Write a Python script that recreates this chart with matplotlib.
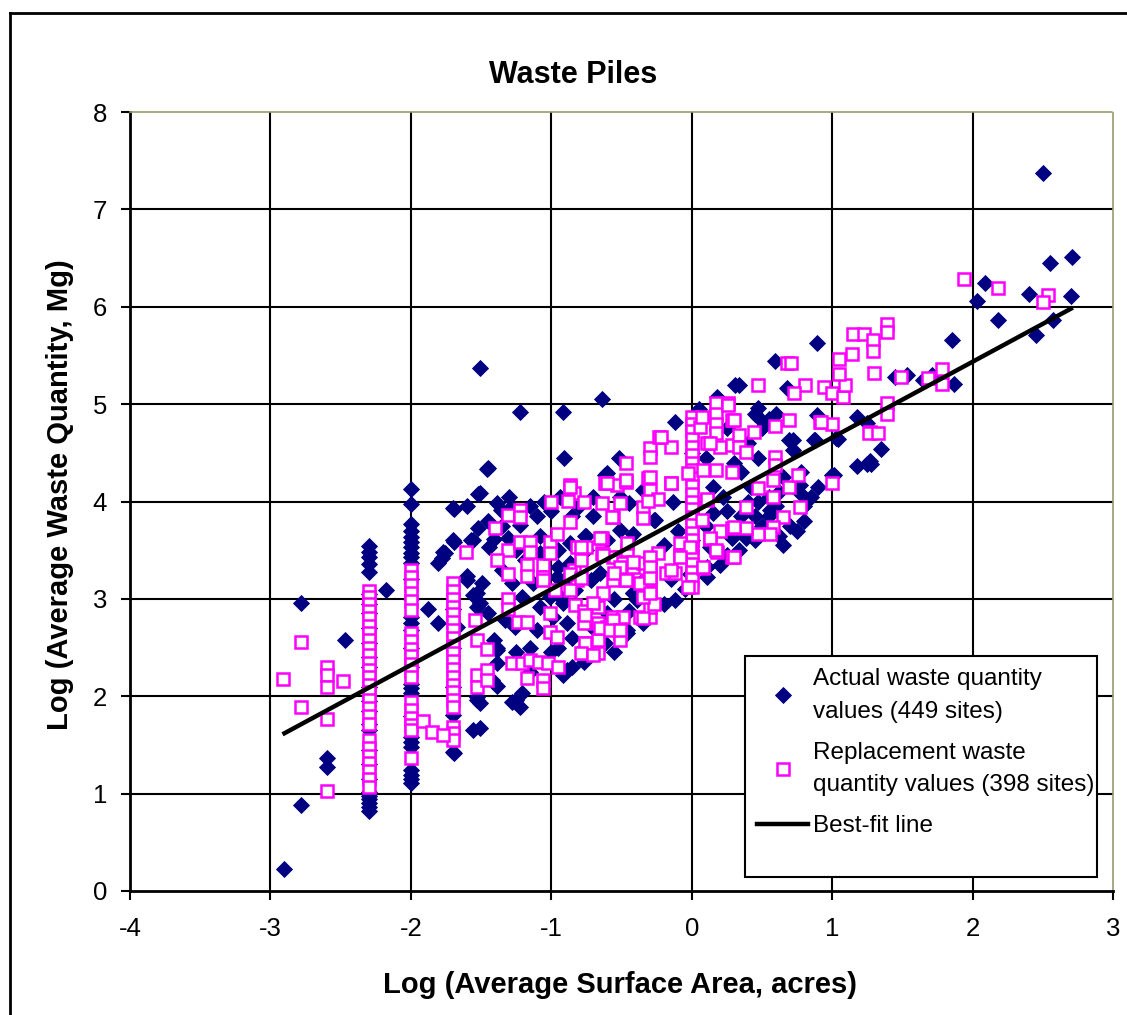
import matplotlib
matplotlib.use("Agg")
import matplotlib.pyplot as plt
from matplotlib.lines import Line2D
from matplotlib.patches import Rectangle
import numpy as np

plt.rcParams['font.family'] = ['Liberation Sans', 'DejaVu Sans']

# ---------------- data ----------------
# vertical columns of points (x value, list of y values)
actual_col_x = [-2.3, -2.0, -1.7]
actual_col_y = [
    [3.54, 3.48, 3.43, 3.36, 3.28, 3.05, 2.95, 2.85, 2.70, 2.55, 2.40, 2.30, 2.10, 1.95, 1.85,
     1.72, 1.65, 1.45, 1.30, 1.15, 1.02, 0.98, 0.94, 0.90, 0.86, 0.82],
    [4.13, 3.97, 3.77, 3.70, 3.64, 3.58, 3.53, 3.47, 3.43, 3.37, 3.20, 3.00, 2.81, 2.75, 2.68,
     2.50, 2.30, 2.13, 2.08, 2.03, 1.80, 1.58, 1.53, 1.48, 1.24, 1.19, 1.15, 1.11],
    [3.93, 3.60, 2.90, 2.50, 2.10, 1.81, 1.43],
]
replacement_col_x = [-2.3, -2.0, -1.7, 0.0]
replacement_col_y = [
    [3.08, 3.02, 2.95, 2.88, 2.80, 2.72, 2.65, 2.58, 2.50, 2.42, 2.34, 2.27, 2.20, 2.12, 2.04,
     1.96, 1.88, 1.80, 1.72, 1.55, 1.47, 1.39, 1.31, 1.23, 1.15, 1.07],
    [3.30, 3.22, 3.14, 3.06, 2.98, 2.89, 2.65, 2.57, 2.49, 2.41, 2.33, 2.26, 2.20, 1.94, 1.86,
     1.78, 1.70, 1.65, 1.37],
    [3.16, 3.08, 3.00, 2.92, 2.84, 2.76, 2.68, 2.60, 2.52, 2.44, 2.36, 2.28, 2.20, 2.12, 2.04,
     1.96, 1.89, 1.68, 1.62, 1.55],
    [4.87, 4.80, 4.72, 4.64, 4.56, 4.48, 4.40, 4.32, 4.24, 4.16, 4.08, 4.00, 3.92, 3.84, 3.76,
     3.68, 3.60, 3.52, 3.44, 3.36, 3.28, 3.20, 3.12],
]

# scattered points (log area, log quantity)
actual_pts = [
    (-2.90, 0.23), (-2.78, 0.88), (-2.78, 2.96), (-2.60, 1.37), (-2.60, 1.27), (-2.47, 2.58), (-2.18, 3.09),
    (-1.88, 2.90), (-1.81, 2.75), (-1.81, 3.37), (-1.78, 3.42), (-1.76, 3.47), (-1.77, 3.48), (-1.69, 3.58), (-1.69, 3.92),
    (-1.52, 4.08), (-1.46, 4.33), (-1.52, 3.73), (-1.57, 3.60), (-1.60, 3.23), (-1.53, 3.06), (-1.51, 2.96), (-1.39, 2.50),
    (-1.53, 1.96), (-1.51, 1.67),
    (-1.51, 5.37), (-1.22, 4.92), (-0.92, 4.92), (-0.64, 5.05), (-0.91, 4.45), (-1.45, 4.34), (-0.52, 4.45), (-1.51, 4.09),
    (-1.39, 3.98), (-1.30, 4.05), (-1.29, 3.94), (-1.36, 3.91), (-0.94, 4.05), (-0.60, 4.29), (-0.51, 4.05), (-0.45, 3.98),
    (-1.56, 3.60), (-1.22, 3.76), (-1.08, 3.65), (-1.31, 3.63), (-1.41, 3.62), (-1.44, 3.53),
    (-0.95, 3.50), (-0.95, 3.33), (-0.87, 3.37), (-0.96, 3.22), (-0.75, 3.65), (-0.75, 3.50), (-0.51, 3.71), (-0.60, 3.60),
    (-1.25, 1.96), (-1.21, 2.03), (-1.22, 1.89), (-1.28, 1.94), (-1.53, 1.99), (-1.51, 1.93), (-1.56, 1.65), (-1.69, 1.42),
    (-1.39, 2.11), (-1.42, 2.17), (-1.39, 2.34), (-0.89, 2.27), (-0.77, 2.35), (-0.46, 2.68), (-0.42, 3.06), (-0.37, 3.16),
    (-1.56, 3.04), (-1.53, 2.92), (-1.26, 2.71), (-1.33, 2.78), (-1.10, 2.68), (-1.08, 2.92), (-0.99, 2.81), (-0.94, 3.02),
    (-0.89, 2.75), (-1.01, 3.02), (-1.21, 3.02), (-0.84, 3.16), (-0.72, 3.19), (-0.89, 3.22), (-1.41, 2.58), (-1.39, 2.47),
    (-1.67, 2.71), (-1.49, 3.16), (-1.60, 3.19), (-1.28, 3.16), (-1.19, 3.40), (-1.08, 3.47), (-1.13, 3.16),
    (-0.92, 2.22), (-0.85, 2.30), (-0.72, 2.45), (-0.62, 2.55), (-0.55, 2.45), (-1.15, 2.25), (-1.00, 2.45), (-1.45, 2.85),
    (-1.35, 3.30), (-1.25, 3.50), (-1.10, 3.85), (-1.05, 4.00), (-1.60, 3.95), (-1.45, 3.80),
    (-1.35, 3.75), (-1.25, 3.85), (-1.15, 3.95), (-1.00, 3.90), (-0.85, 3.85), (-0.80, 3.95), (-0.70, 3.85),
    (-0.55, 3.00), (-0.60, 2.85), (-0.70, 2.70), (-0.85, 2.60), (-0.95, 2.50), (-1.15, 2.50), (-1.25, 2.45),
    (-0.62, 4.27), (-0.35, 4.12), (-0.70, 4.05), (-0.13, 3.99), (-0.76, 3.65), (-0.42, 3.67), (-0.26, 3.81), (-0.65, 3.27),
    (-0.42, 3.06), (-0.39, 2.99), (-0.45, 2.88), (-0.87, 3.57), (-0.83, 3.09), (-0.92, 2.96), (-0.77, 2.40), (-0.46, 2.65),
    (-0.27, 3.81), (-0.01, 3.26), (0.11, 3.33), (0.13, 3.53), (0.34, 3.50), (0.30, 3.67), (0.39, 3.63),
    (0.31, 5.20), (0.18, 5.07), (-0.12, 4.82), (0.15, 4.15), (0.15, 3.88), (0.29, 3.63), (0.11, 3.22), (-0.12, 2.99), (0.01, 3.30),
    (-0.05, 3.10), (0.20, 3.35), (0.25, 3.45), (-0.20, 2.95), (-0.35, 2.75), (-0.15, 3.20), (0.00, 3.60), (0.00, 4.00),
    (0.00, 4.50), (0.05, 4.95), (0.10, 3.75), (-0.10, 3.70), (-0.20, 3.55), (0.25, 3.90), (0.22, 4.05),
    (0.47, 3.99), (0.56, 3.91), (0.77, 4.17), (0.77, 4.09), (0.69, 4.63),
    (0.40, 4.00), (0.45, 3.85), (0.50, 3.75), (0.55, 3.85), (0.60, 3.95), (0.62, 3.65), (0.70, 3.75), (0.80, 3.95),
    (0.85, 4.05), (0.90, 4.15), (0.78, 4.30), (0.65, 4.25), (0.35, 3.85), (0.45, 3.60), (0.65, 3.55), (0.75, 3.70),
    (0.80, 3.80), (0.55, 4.05), (0.62, 4.10), (0.42, 4.15),
    (0.30, 4.40), (0.35, 4.30), (0.40, 4.60), (0.50, 4.75), (0.55, 4.85), (0.60, 4.90), (0.45, 4.90), (0.25, 4.75), (0.10, 4.45),
    (0.89, 5.63), (0.59, 5.44), (0.34, 5.20), (0.68, 5.17), (0.47, 4.96), (0.47, 4.87), (0.72, 4.63), (0.72, 4.53),
    (0.88, 4.63), (1.04, 4.64), (0.47, 4.45), (1.00, 4.27),
    (2.50, 7.37), (2.71, 6.51), (2.55, 6.45), (2.09, 6.24), (2.40, 6.13), (2.70, 6.11), (2.03, 6.06), (2.18, 5.86),
    (2.57, 5.86), (2.45, 5.71), (1.85, 5.66), (1.45, 5.28), (1.53, 5.30), (1.71, 5.30), (1.65, 5.25), (1.87, 5.21),
    (1.18, 4.87), (1.25, 4.81), (1.35, 4.54), (1.27, 4.42), (1.25, 4.39), (1.18, 4.36), (1.28, 4.38), (0.89, 4.89),
    (0.87, 4.63), (1.01, 4.27), (1.03, 4.65),
]

replacement_pts = [
    (-2.91, 2.18), (-2.78, 2.56), (-2.78, 1.89), (-2.60, 2.30), (-2.60, 2.22), (-2.60, 2.10), (-2.60, 1.77), (-2.60, 1.03),
    (-2.48, 2.16), (-1.91, 1.75), (-1.85, 1.63), (-1.77, 1.60),
    (-1.61, 3.48), (-1.53, 2.58), (-1.53, 2.22), (-1.53, 2.10), (-1.46, 2.27), (-1.46, 2.49), (-1.54, 2.78), (-1.46, 2.17),
    (-1.31, 3.86), (-1.22, 3.91), (-1.22, 3.84), (-1.40, 3.73),
    (-1.31, 3.50), (-1.22, 3.58), (-1.15, 3.58), (-1.15, 3.48), (-1.01, 3.58), (-0.96, 3.67),
    (-1.39, 3.40), (-1.17, 3.35), (-1.17, 3.24), (-1.06, 3.35), (-1.06, 3.22), (-1.31, 3.26), (-1.01, 3.47),
    (-1.06, 3.19), (-0.97, 3.09), (-0.84, 3.30), (-0.82, 3.19), (-0.87, 3.09),
    (-1.31, 3.00), (-1.31, 2.90), (-1.24, 2.76), (-1.17, 2.76),
    (-1.01, 2.85), (-1.01, 2.66), (-0.96, 2.61), (-0.83, 2.94), (-0.77, 2.88), (-0.77, 2.75), (-0.75, 2.55), (-0.67, 2.92),
    (-0.67, 2.75), (-0.67, 2.58), (-0.77, 2.44), (-0.67, 2.44), (-0.60, 2.71), (-0.56, 2.81), (-0.51, 2.65), (-0.51, 2.58),
    (-0.49, 2.81), (-0.37, 2.81), (-0.30, 2.81), (-0.30, 2.92), (-0.27, 2.95), (-0.35, 3.02), (-0.30, 3.09), (-0.32, 3.19),
    (-0.30, 3.30), (-0.37, 3.16), (-0.46, 3.19), (-0.56, 3.19), (-0.51, 3.43),
    (-1.28, 2.34), (-1.21, 2.34), (-1.15, 2.37), (-1.09, 2.35), (-1.02, 2.34), (-0.95, 2.30), (-1.17, 2.19), (-1.06, 2.17),
    (-1.06, 2.08),
    (-1.00, 4.00), (-0.87, 4.17), (-0.84, 4.09), (-0.88, 4.01), (-0.77, 3.99), (-0.62, 4.19), (-0.53, 4.17), (-0.47, 4.20),
    (-0.64, 3.98), (-0.51, 3.98), (-0.56, 3.84),
    (-0.82, 3.53), (-0.75, 3.53), (-0.79, 3.40), (-0.64, 3.63), (-0.64, 3.47), (-0.56, 3.43), (-0.46, 3.50), (-0.49, 3.37),
    (-0.42, 3.33), (-0.35, 3.37), (-0.30, 3.42), (-0.24, 3.47), (-0.30, 3.22),
    (-0.47, 4.40), (-0.30, 4.55), (-0.30, 4.46), (-0.23, 4.66), (-0.15, 4.56), (-0.31, 4.24), (-0.15, 4.19), (-0.47, 4.22),
    (-0.60, 4.19), (-0.87, 4.15), (-0.87, 3.79), (-0.57, 3.84), (-0.35, 3.94), (-0.30, 4.12), (-0.24, 4.03), (-0.35, 3.83),
    (-0.65, 3.63), (-0.79, 3.53), (-0.46, 3.57), (-0.30, 3.43), (-0.42, 3.38), (-0.51, 3.33), (-0.63, 3.45), (-0.87, 3.26),
    (-0.79, 3.21), (-0.55, 3.27), (-0.47, 3.19), (-0.30, 3.33), (-0.30, 3.21), (-0.18, 3.27), (-0.12, 3.27), (-0.08, 3.57),
    (-0.08, 3.45), (-0.03, 3.12), (-0.30, 3.06), (-0.35, 2.80), (-0.63, 3.06), (-0.70, 2.96), (-0.76, 2.83), (-0.56, 2.78),
    (-0.65, 2.70), (-0.58, 2.68), (-0.51, 2.68), (-0.76, 2.55), (-0.79, 2.44), (-0.70, 2.42),
    (0.17, 5.01), (0.26, 5.01), (0.17, 4.90), (0.17, 4.80), (0.17, 4.70), (0.29, 4.84), (0.11, 4.60), (0.20, 4.56),
    (0.29, 4.58), (0.08, 4.32), (0.17, 4.32), (0.29, 4.30), (0.11, 4.02), (0.20, 3.70), (0.29, 3.73), (0.13, 3.61),
    (0.18, 3.48), (0.29, 3.43), (0.08, 3.32),
    (0.69, 4.15), (0.76, 4.27), (0.58, 4.22), (0.47, 4.14), (0.39, 3.94), (0.58, 4.05), (0.77, 3.94), (0.65, 3.84),
    (0.58, 3.74), (0.56, 3.67), (0.47, 3.67), (0.39, 3.73), (0.30, 3.74), (0.13, 3.63), (0.17, 3.50), (0.30, 3.43),
    (-0.03, 4.29), (-0.15, 4.19), (-0.30, 4.25), (-0.31, 4.01), (0.11, 4.03), (0.07, 3.81), (-0.01, 3.53), (-0.08, 3.43),
    (-0.15, 3.30), (0.08, 3.33),
    (0.26, 4.99), (0.30, 4.84), (-0.22, 4.66), (0.59, 4.78), (0.69, 4.84), (0.91, 4.82), (1.00, 4.80), (1.27, 4.71),
    (0.34, 4.68), (0.34, 4.56), (0.39, 4.51), (0.44, 4.71), (0.13, 4.60), (0.06, 4.77), (0.07, 4.87), (0.59, 4.46),
    (0.59, 4.37), (1.00, 4.19),
    (0.68, 5.42), (0.71, 5.42), (0.47, 5.20), (0.81, 5.20), (0.73, 5.11), (0.94, 5.18), (1.00, 5.11), (1.08, 5.07),
    (1.09, 5.20), (1.05, 5.31), (1.05, 5.46), (1.14, 5.51), (1.15, 5.72), (1.23, 5.72), (1.29, 5.66), (1.29, 5.55),
    (1.30, 5.32),
    (1.94, 6.28), (2.18, 6.19), (2.54, 6.12), (2.50, 6.05), (1.39, 5.82), (1.39, 5.74), (1.49, 5.28), (1.78, 5.36),
    (1.78, 5.21), (1.68, 5.27), (1.39, 5.01), (1.39, 4.90), (1.26, 4.70), (1.33, 4.70), (0.92, 4.82),
]

fit_x = [-2.9, 2.7]
fit_y = [1.62, 5.98]

x_ticks = [-4, -3, -2, -1, 0, 1, 2, 3]
y_ticks = [0, 1, 2, 3, 4, 5, 6, 7, 8]

title = "Waste Piles"
x_label = "Log (Average Surface Area, acres)"
y_label = "Log (Average Waste Quantity, Mg)"
lab_actual = "Actual waste quantity\nvalues (449 sites)"
lab_repl = "Replacement waste\nquantity values (398 sites)"
lab_fit = "Best-fit line"

# ---------------- assemble ----------------
ax_x = [x for x, ys in zip(actual_col_x, actual_col_y) for _ in ys] + [p[0] for p in actual_pts]
ax_y = [y for ys in actual_col_y for y in ys] + [p[1] for p in actual_pts]
rp_x = [x for x, ys in zip(replacement_col_x, replacement_col_y) for _ in ys] + [p[0] for p in replacement_pts]
rp_y = [y for ys in replacement_col_y for y in ys] + [p[1] for p in replacement_pts]

W, H = 1127, 1015
fig = plt.figure(figsize=(W / 100, H / 100), dpi=100)
fig.patch.set_facecolor('white')
ax = fig.add_axes([130 / W, (H - 891) / H, 983 / W, 779 / H])

navy = '#000080'
mag = '#FF00FF'

ax.plot(ax_x, ax_y, linestyle='none', marker='D', markersize=8.2, color=navy,
        markeredgecolor=navy, markeredgewidth=0.6, zorder=3, label=lab_actual)
ax.plot(rp_x, rp_y, linestyle='none', marker='s', markersize=8.4, markerfacecolor='white',
        markeredgecolor=mag, markeredgewidth=1.8, zorder=3.5, label=lab_repl)
ax.plot(fit_x, fit_y, color='black', lw=3.2, zorder=4, label=lab_fit)

ax.set_xlim(-4, 3)
ax.set_ylim(0, 8)
ax.set_xticks(x_ticks)
ax.set_yticks(y_ticks)
ax.set_xticklabels([str(t) for t in x_ticks])
ax.set_yticklabels([str(t) for t in y_ticks])

ax.set_axisbelow(True)
ax.grid(True, color='black', lw=1.5)
for t in (ax.xaxis.get_major_ticks()[0], ax.xaxis.get_major_ticks()[-1],
          ax.yaxis.get_major_ticks()[0], ax.yaxis.get_major_ticks()[-1]):
    t.gridline.set_visible(False)

for s in ('left', 'bottom'):
    ax.spines[s].set_color('black')
    ax.spines[s].set_linewidth(2)
for s in ('top', 'right'):
    ax.spines[s].set_color('#9a9a70')
    ax.spines[s].set_linewidth(1.2)
    ax.spines[s].set_linestyle((0, (1, 1)))

ax.tick_params(axis='both', direction='out', length=6.5, width=1.5, color='black',
               labelsize=18.5, labelcolor='black')
ax.tick_params(axis='x', pad=12)
ax.tick_params(axis='y', pad=10)
ax.tick_params(top=False, right=False)

# legend with manual frame
lx0 = (745 - 130) / 983
ly0 = (891 - 877) / 779
lx1 = (1097 - 130) / 983
ly1 = (891 - 656) / 779
ax.add_patch(Rectangle((lx0, ly0), lx1 - lx0, ly1 - ly0, transform=ax.transAxes,
                       facecolor='white', edgecolor='black', lw=1.5, zorder=5))
leg = ax.legend(loc='upper left', bbox_to_anchor=(lx0, ly1), frameon=False, numpoints=1,
                fontsize=17.5, handlelength=2.1, handletextpad=0.2, borderpad=0.5,
                labelspacing=0.78, borderaxespad=0)
leg.set_zorder(6)
for t in leg.get_texts():
    t.set_linespacing(1.62)

# titles
fig.text(573 / W, 1 - 75 / H, title, ha='center', va='center', fontsize=22, fontweight='bold')
fig.text(620 / W, 1 - 985 / H, x_label, ha='center', va='center', fontsize=21, fontweight='bold')
fig.text(60 / W, 1 - 495 / H, y_label, ha='center', va='center', rotation=90,
         fontsize=21, fontweight='bold')

# outer chart border
fig.add_artist(Line2D([10 / W, 10 / W], [0, 1 - 13 / H], transform=fig.transFigure, color='black', lw=2))
fig.add_artist(Line2D([10 / W, 1], [1 - 13 / H, 1 - 13 / H], transform=fig.transFigure, color='black', lw=2))

fig.savefig('out.png', dpi=100, facecolor='white')
